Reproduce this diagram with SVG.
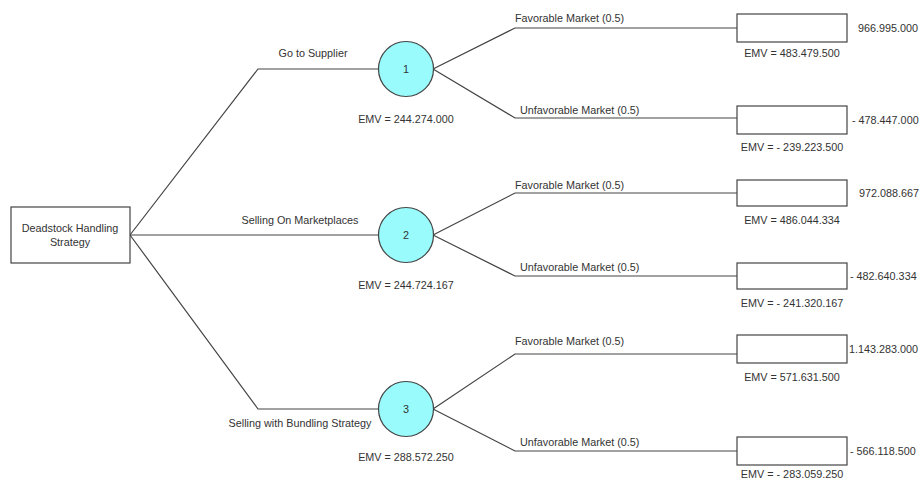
<svg xmlns="http://www.w3.org/2000/svg" width="921" height="481" viewBox="0 0 921 481">
<style>
text{font-family:"Liberation Sans",Arial,sans-serif;font-size:10.8px;fill:#333}
.c{text-anchor:middle}
.ln{fill:none;stroke:#444;stroke-width:1.2}
.box{fill:#fff;stroke:#444;stroke-width:1.2}
.chance{fill:#99fbfb;stroke:#444;stroke-width:1.2}
</style>
<rect width="921" height="481" fill="#fff"/>
<g id="connectors">
<polyline class="ln" points="130,235 258,69 378,69"/>
<polyline class="ln" points="130,235 378,235"/>
<polyline class="ln" points="130,235 258,409 378,409"/>
<polyline class="ln" points="433,69 515,28 737,28"/>
<polyline class="ln" points="433,69 515,118 737,118"/>
<polyline class="ln" points="433,235 515,193 737,193"/>
<polyline class="ln" points="433,235 515,276 737,276"/>
<polyline class="ln" points="433,409 515,354 737,354"/>
<polyline class="ln" points="433,409 515,451 737,451"/>
<text x="313" y="57" class="c">Go to Supplier</text>
<text x="300" y="224" class="c">Selling On Marketplaces</text>
<text x="300" y="427" class="c">Selling with Bundling Strategy</text>
<text x="515" y="22">Favorable Market (0.5)</text>
<text x="520" y="114">Unfavorable Market (0.5)</text>
<text x="515" y="189">Favorable Market (0.5)</text>
<text x="520" y="271">Unfavorable Market (0.5)</text>
<text x="515" y="345">Favorable Market (0.5)</text>
<text x="520" y="446">Unfavorable Market (0.5)</text>
</g>
<g id="root">
<rect class="box" x="11" y="207" width="119" height="56"/>
<text x="70" y="232" class="c">Deadstock Handling</text>
<text x="70" y="246" class="c">Strategy</text>
</g>
<g id="n1">
<circle class="chance" cx="406" cy="69" r="27.5"/>
<text x="406" y="73" class="c">1</text>
<text x="406" y="123" class="c">EMV = 244.274.000</text>
</g>
<g id="n2">
<circle class="chance" cx="406" cy="235" r="27.5"/>
<text x="406" y="239" class="c">2</text>
<text x="406" y="289" class="c">EMV = 244.724.167</text>
</g>
<g id="n3">
<circle class="chance" cx="406" cy="409" r="27.5"/>
<text x="406" y="413" class="c">3</text>
<text x="406" y="461" class="c">EMV = 288.572.250</text>
</g>
<g id="t1f">
<rect class="box" x="737" y="14" width="110" height="28"/>
<text x="858" y="32">966.995.000</text>
<text x="792" y="57" class="c">EMV = 483.479.500</text>
</g>
<g id="t1u">
<rect class="box" x="737" y="106" width="110" height="28"/>
<text x="852" y="124">- 478.447.000</text>
<text x="792" y="151" class="c">EMV = - 239.223.500</text>
</g>
<g id="t2f">
<rect class="box" x="737" y="180" width="110" height="26"/>
<text x="859" y="197">972.088.667</text>
<text x="792" y="224" class="c">EMV = 486.044.334</text>
</g>
<g id="t2u">
<rect class="box" x="737" y="263" width="110" height="26"/>
<text x="850" y="280">- 482.640.334</text>
<text x="792" y="307" class="c">EMV = - 241.320.167</text>
</g>
<g id="t3f">
<rect class="box" x="737" y="335" width="110" height="28"/>
<text x="849" y="353">1.143.283.000</text>
<text x="792" y="381" class="c">EMV = 571.631.500</text>
</g>
<g id="t3u">
<rect class="box" x="737" y="437" width="110" height="28"/>
<text x="850" y="455">- 566.118.500</text>
<text x="792" y="478" class="c">EMV = - 283.059.250</text>
</g>
</svg>
